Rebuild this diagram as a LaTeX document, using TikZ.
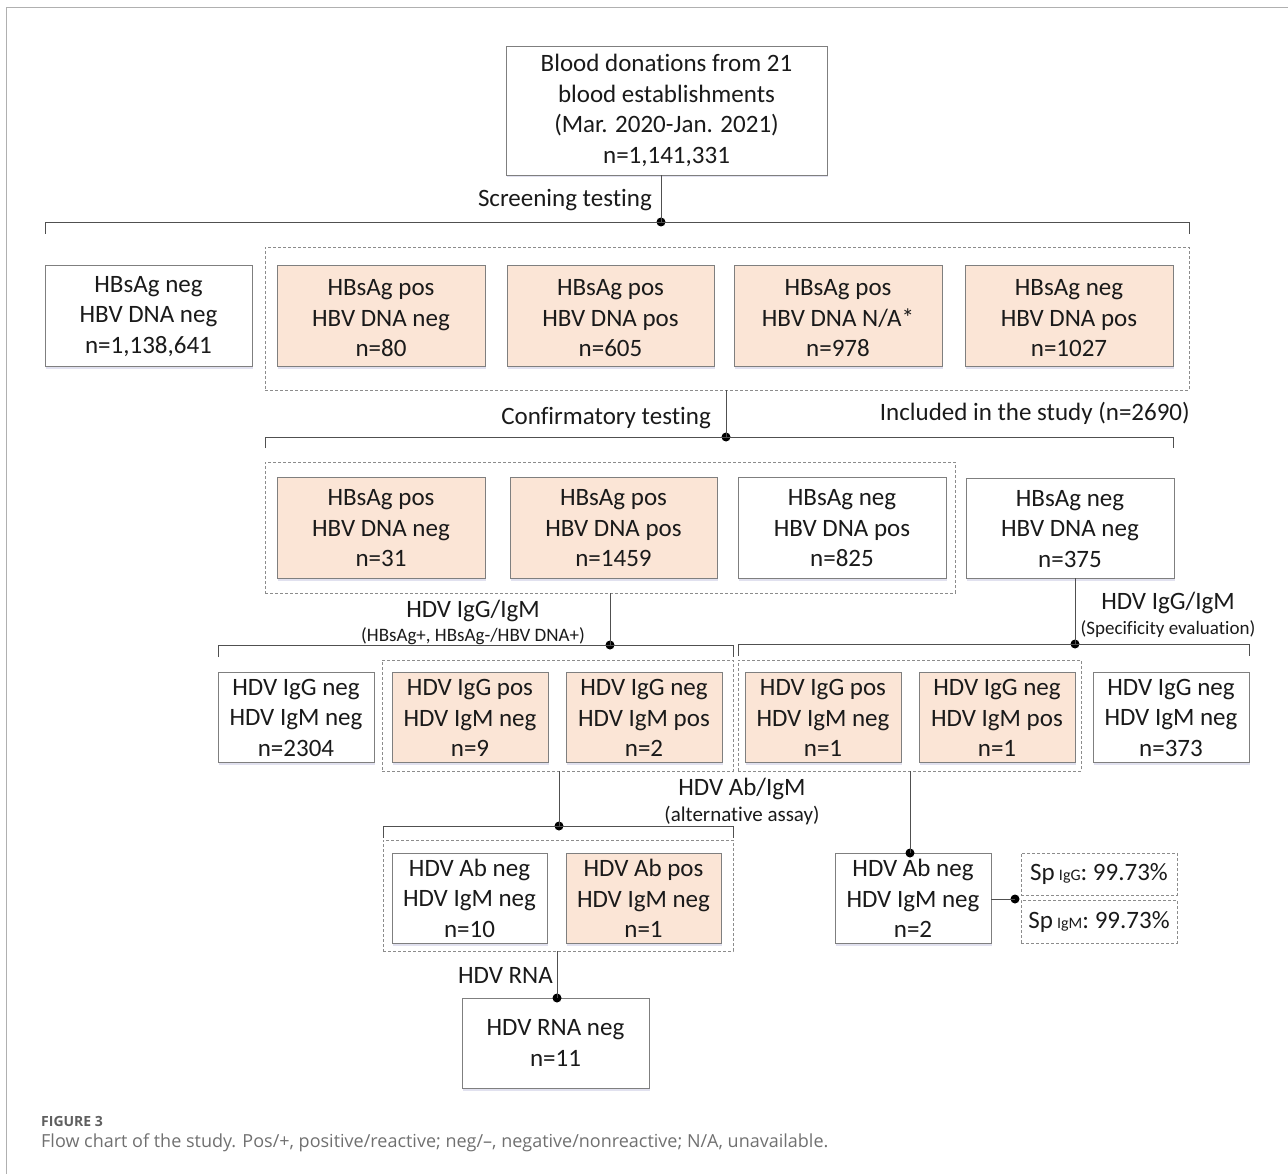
\documentclass[tikz,border=0pt]{standalone}
\usepackage{fontspec}
\setmainfont[Ligatures=NoCommon]{Carlito}
\newfontfamily\capfont{Open Sans}
\usetikzlibrary{shadows}
\definecolor{peach}{HTML}{FBE5D6}
\definecolor{edge}{HTML}{7F7F7F}
\definecolor{conn}{HTML}{505050}
\definecolor{dash}{HTML}{8C8C8C}
\definecolor{frame}{HTML}{B0B0B0}
\definecolor{capgray}{HTML}{707070}
\definecolor{txt}{HTML}{1A1A1A}
\newcommand\tstrut{\rule{0pt}{18pt}}
\newcommand\bstrut{\rule{0pt}{22pt}}
\tikzset{
  bigtext/.style={font=\fontsize{25}{30.5}\selectfont, text=txt},
  box/.style={bigtext, draw=edge, line width=0.8pt, fill=white, align=center, inner sep=0pt,
    drop shadow={shadow xshift=1pt, shadow yshift=-2.5pt, fill=blue!30!gray, opacity=0.18}},
  pbox/.style={box, fill=peach},
  grp/.style={draw=dash, dashed, dash pattern=on 3pt off 2pt, line width=0.7pt, inner sep=0pt},
  conline/.style={draw=conn, line width=0.9pt},
  dotn/.style={circle, fill=black, inner sep=0pt, minimum size=9pt},
  lab/.style={bigtext, inner sep=0pt},
  smalllab/.style={font=\fontsize{19}{22}\selectfont, text=txt, inner sep=0pt},
}
\begin{document}
\begin{tikzpicture}[x=1pt,y=-1pt]
\useasboundingbox (0,0) rectangle (1288,1174);
% frame
\draw[frame, line width=1pt] (6,1174) -- (6,8) -- (1288,8);

% top
\node[box, minimum width=321pt, minimum height=129pt] (top) at (666.5,110.5)
  {Blood donations from 21\\blood establishments\\(Mar. 2020-Jan. 2021)\\n=1,141,331};

% row 1
\node[grp, minimum width=924pt, minimum height=143pt] (g1) at (727,318.5) {};
\node[box, minimum width=207pt, minimum height=101pt] (A) at (148.5,315.5) {\tstrut HBsAg neg\\HBV DNA neg\\n=1,138,641};
\node[pbox, minimum width=208pt, minimum height=101pt] (B1) at (381,315.5) {\bstrut HBsAg pos\\HBV DNA neg\\n=80};
\node[pbox, minimum width=207pt, minimum height=101pt] (B2) at (610.5,315.5) {\bstrut HBsAg pos\\HBV DNA pos\\n=605};
\node[pbox, minimum width=208pt, minimum height=101pt] (B3) at (838,315.5) {\bstrut HBsAg pos\\HBV DNA N/A*\\n=978};
\node[pbox, minimum width=208pt, minimum height=101pt] (B4) at (1069,315.5) {\bstrut HBsAg neg\\HBV DNA pos\\n=1027};

\node[dotn] (d1) at (661,222) {};
\draw[conline] (top.south -| d1) -- (d1.center);
\draw[conline] (45,234) -- (45,222) -- (1189,222) -- (1189,234);
\node[lab, anchor=east] (l1) at (652,200) {Screening testing};

% row 2
\node[lab, anchor=east] (l2) at (1190,413) {Included in the study (n=2690)};
\node[dotn] (d2) at (726,437) {};
\draw[conline] (g1.south -| d2) -- (d2.center);
\node[lab, anchor=east] (l3) at (711,418) {Confirmatory testing};
\draw[conline] (265,448) -- (265,437) -- (1173,437) -- (1173,448);

\node[grp, minimum width=690pt, minimum height=131pt] (g2) at (610,527.5) {};
\node[pbox, minimum width=208pt, minimum height=101pt] (C1) at (381,527.5) {\tstrut HBsAg pos\\HBV DNA neg\\n=31};
\node[pbox, minimum width=207pt, minimum height=101pt] (C2) at (613.5,527.5) {\tstrut HBsAg pos\\HBV DNA pos\\n=1459};
\node[box, minimum width=208pt, minimum height=101pt] (C3) at (842,527.5) {\tstrut HBsAg neg\\HBV DNA pos\\n=825};
\node[box, minimum width=208pt, minimum height=100pt] (C4) at (1070,528) {\tstrut HBsAg neg\\HBV DNA neg\\n=375};

% HDV IgG/IgM left
\node[dotn] (d3) at (610,645) {};
\draw[conline] (g2.south -| d3) -- (d3.center);
\node[lab] (l4) at (473,611) {HDV IgG/IgM};
\node[smalllab] (l5) at (473,636) {(HBsAg+, HBsAg-/HBV DNA+)};
\draw[conline] (218,657) -- (218,645) -- (733,645) -- (733,657);

% HDV IgG/IgM right
\node[dotn] (d4) at (1075,644) {};
\draw[conline] (C4.south -| d4) -- (d4.center);
\node[lab] (l6) at (1168,603) {HDV IgG/IgM};
\node[smalllab] (l7) at (1168,629) {(Specificity evaluation)};
\draw[conline] (738,656) -- (738,644) -- (1249,644) -- (1249,656);

% row 3
\node[grp, minimum width=351pt, minimum height=111pt] (g3) at (557.5,715.5) {};
\node[grp, minimum width=343pt, minimum height=111pt] (g4) at (909.5,715.5) {};
\node[box, minimum width=156pt, minimum height=90pt] (D1) at (296,717) {\tstrut HDV IgG neg\\HDV IgM neg\\n=2304};
\node[pbox, minimum width=156pt, minimum height=90pt] (D2) at (470,717) {\tstrut HDV IgG pos\\HDV IgM neg\\n=9};
\node[pbox, minimum width=156pt, minimum height=90pt] (D3) at (644,717) {\tstrut HDV IgG neg\\HDV IgM pos\\n=2};
\node[pbox, minimum width=156pt, minimum height=90pt] (D4) at (823,717) {\tstrut HDV IgG pos\\HDV IgM neg\\n=1};
\node[pbox, minimum width=156pt, minimum height=90pt] (D5) at (997,717) {\tstrut HDV IgG neg\\HDV IgM pos\\n=1};
\node[box, minimum width=156pt, minimum height=90pt] (D6) at (1171,717) {\tstrut HDV IgG neg\\HDV IgM neg\\n=373};

% HDV Ab/IgM
\node[dotn] (d5) at (559,826) {};
\draw[conline] (g3.south -| d5) -- (d5.center);
\node[lab] (l8) at (742,789) {HDV Ab/IgM};
\node[smalllab, font=\fontsize{21}{24}\selectfont] (l9) at (742,816) {(alternative assay)};
\draw[conline] (383,838) -- (383,826) -- (733,826) -- (733,838);

% row 4
\node[grp, minimum width=350pt, minimum height=111pt] (g5) at (558,895.5) {};
\node[box, minimum width=155pt, minimum height=90pt] (E1) at (469.5,898) {\tstrut HDV Ab neg\\HDV IgM neg\\n=10};
\node[pbox, minimum width=155pt, minimum height=90pt] (E2) at (643.5,898) {\tstrut HDV Ab pos\\HDV IgM neg\\n=1};
\node[box, minimum width=156pt, minimum height=90pt] (E3) at (913,898) {\tstrut HDV Ab neg\\HDV IgM neg\\n=2};
\node[dotn] (d6) at (910,853) {};
\draw[conline] (g4.south -| d6) -- (d6.center);

\node[grp, bigtext, minimum width=156pt, minimum height=42pt, text depth=4pt] (S1) at (1099,874)
  {Sp\,{\fontsize{16}{16}\selectfont IgG}: 99.73\%};
\node[grp, bigtext, minimum width=156pt, minimum height=43pt, text depth=4pt] (S2) at (1099,921.5)
  {Sp\,{\fontsize{16}{16}\selectfont IgM}: 99.73\%};
\node[dotn] (d7) at (1015,899) {};
\draw[conline] (E3.east |- d7) -- (d7.center);

% HDV RNA
\node[box, minimum width=187pt, minimum height=90pt] (F) at (555.5,1043) {HDV RNA neg\\n=11};
\node[dotn] (d8) at (557,998) {};
\draw[conline] (g5.south -| d8) -- (d8.center);
\node[lab, anchor=east] (l10) at (553,975) {HDV RNA};

% caption
\node[anchor=west, inner sep=0pt, text=capgray!85!black, font=\capfont\bfseries\fontsize{14}{16}\selectfont] (c1) at (41,1121) {FIGURE 3};
\node[anchor=west, inner sep=0pt, text=capgray, font=\capfont\fontsize{18}{21}\selectfont] (c2) at (41,1143)
  {Flow chart of the study. Pos/+, positive/reactive; neg/–, negative/nonreactive; N/A, unavailable.};
\end{tikzpicture}
\end{document}
